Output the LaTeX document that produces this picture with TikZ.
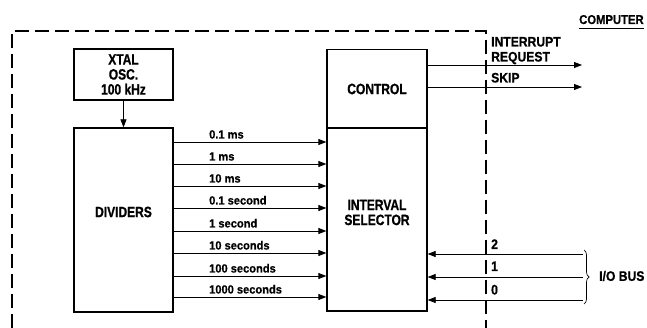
\documentclass[tikz,border=0pt]{standalone}
\usepackage{fontspec}
\setmainfont[FakeStretch=0.8,BoldFeatures={FakeBold=0.8}]{Liberation Sans}
\newfontfamily\lblfont[FakeStretch=0.94,BoldFeatures={FakeBold=0.6}]{Liberation Sans}
\newfontfamily\capfont[FakeStretch=0.88,BoldFeatures={FakeBold=0.7}]{Liberation Sans}
\usetikzlibrary{arrows.meta,decorations.pathreplacing}
\begin{document}
\begin{tikzpicture}[x=1pt,y=-1pt,
 box/.style={draw,line width=1.3pt,inner sep=0,align=center,font=\bfseries\fontsize{15}{15}\selectfont},
 boxtext/.style={inner sep=0,align=center,font=\bfseries\fontsize{15}{15}\selectfont},
 arr/.style={line width=0.8pt,-{Triangle[length=8pt,width=6pt]}},
 lbl/.style={anchor=base west,inner sep=0,font=\lblfont\bfseries\fontsize{11.8}{13}\selectfont},
 captext/.style={anchor=base west,inner sep=0,font=\capfont\bfseries\fontsize{13.8}{15}\selectfont},
 framestyle/.style={line width=1.2pt,dash pattern=on 14pt off 6pt}]
\useasboundingbox (0,0) rectangle (647,328);
% dashed frame
\coordinate (f1) at (12,328);
\coordinate (f2) at (12,31);
\coordinate (f3) at (486,31);
\coordinate (f4) at (486,328);
\draw[framestyle] (f1) -- (f2) -- (f3) -- (f4);
% boxes
\node[box,minimum width=99pt,minimum height=51pt] (xtal) at (123.5,74.5) {XTAL\\OSC.\\100 kHz};
\node[box,minimum width=99pt,minimum height=184pt] (div) at (123.5,220) {};
\node[boxtext] (divtext) at (123.5,212) {DIVIDERS};
\node[box,minimum width=100pt,minimum height=78.5pt] (ctrl) at (377,89) {CONTROL};
\node[box,minimum width=100pt,minimum height=183pt] (sel) at (377,219.5) {};
\node[boxtext] (seltext) at (377,212.5) {INTERVAL\\SELECTOR};
\draw[arr] (xtal.south) -- (div.north);
% divider outputs
\foreach \y/\t [count=\i] in {142/0.1 ms,164/1 ms,186/10 ms,208/0.1 second,231/1 second,253/10 seconds,276/100 seconds,297/1000 seconds}{
  \coordinate (r\i) at (0,\y);
  \draw[arr] (div.east |- r\i) -- (sel.west |- r\i);
  \node[lbl] (l\i) at (209,\y-3.5) {\t};
}
% control outputs
\coordinate (irq) at (582,65);
\coordinate (skp) at (582,87);
\draw[arr] (ctrl.east |- irq) -- (irq);
\draw[arr] (ctrl.east |- skp) -- (skp);
\node[captext] (int) at (491,46.5) {INTERRUPT};
\node[captext] (req) at (491,61.5) {REQUEST};
\node[captext] (skip) at (491,82.5) {SKIP};
% I/O bus
\coordinate (b2) at (583,254);
\coordinate (b1) at (583,277);
\coordinate (b0) at (583,300);
\draw[arr] (b2) -- (sel.east |- b2);
\draw[arr] (b1) -- (sel.east |- b1);
\draw[arr] (b0) -- (sel.east |- b0);
\node[captext] (n2) at (491,249) {2};
\node[captext] (n1) at (491,271) {1};
\node[captext] (n0) at (491,294.5) {0};
\coordinate (bt) at (584,250);
\coordinate (bb) at (584,304);
\draw[line width=0.7pt,decorate,decoration={brace,amplitude=5pt}] (bt) -- (bb);
\node[captext,anchor=west] (iobus) at (599,276) {I/O BUS};
% computer
\node[captext,font=\capfont\bfseries\fontsize{12.8}{14}\selectfont] (comp) at (579,24) {COMPUTER};
\draw[line width=1pt] ([yshift=-5pt]comp.base west) -- ([yshift=-5pt]comp.base east);
\end{tikzpicture}
\end{document}
